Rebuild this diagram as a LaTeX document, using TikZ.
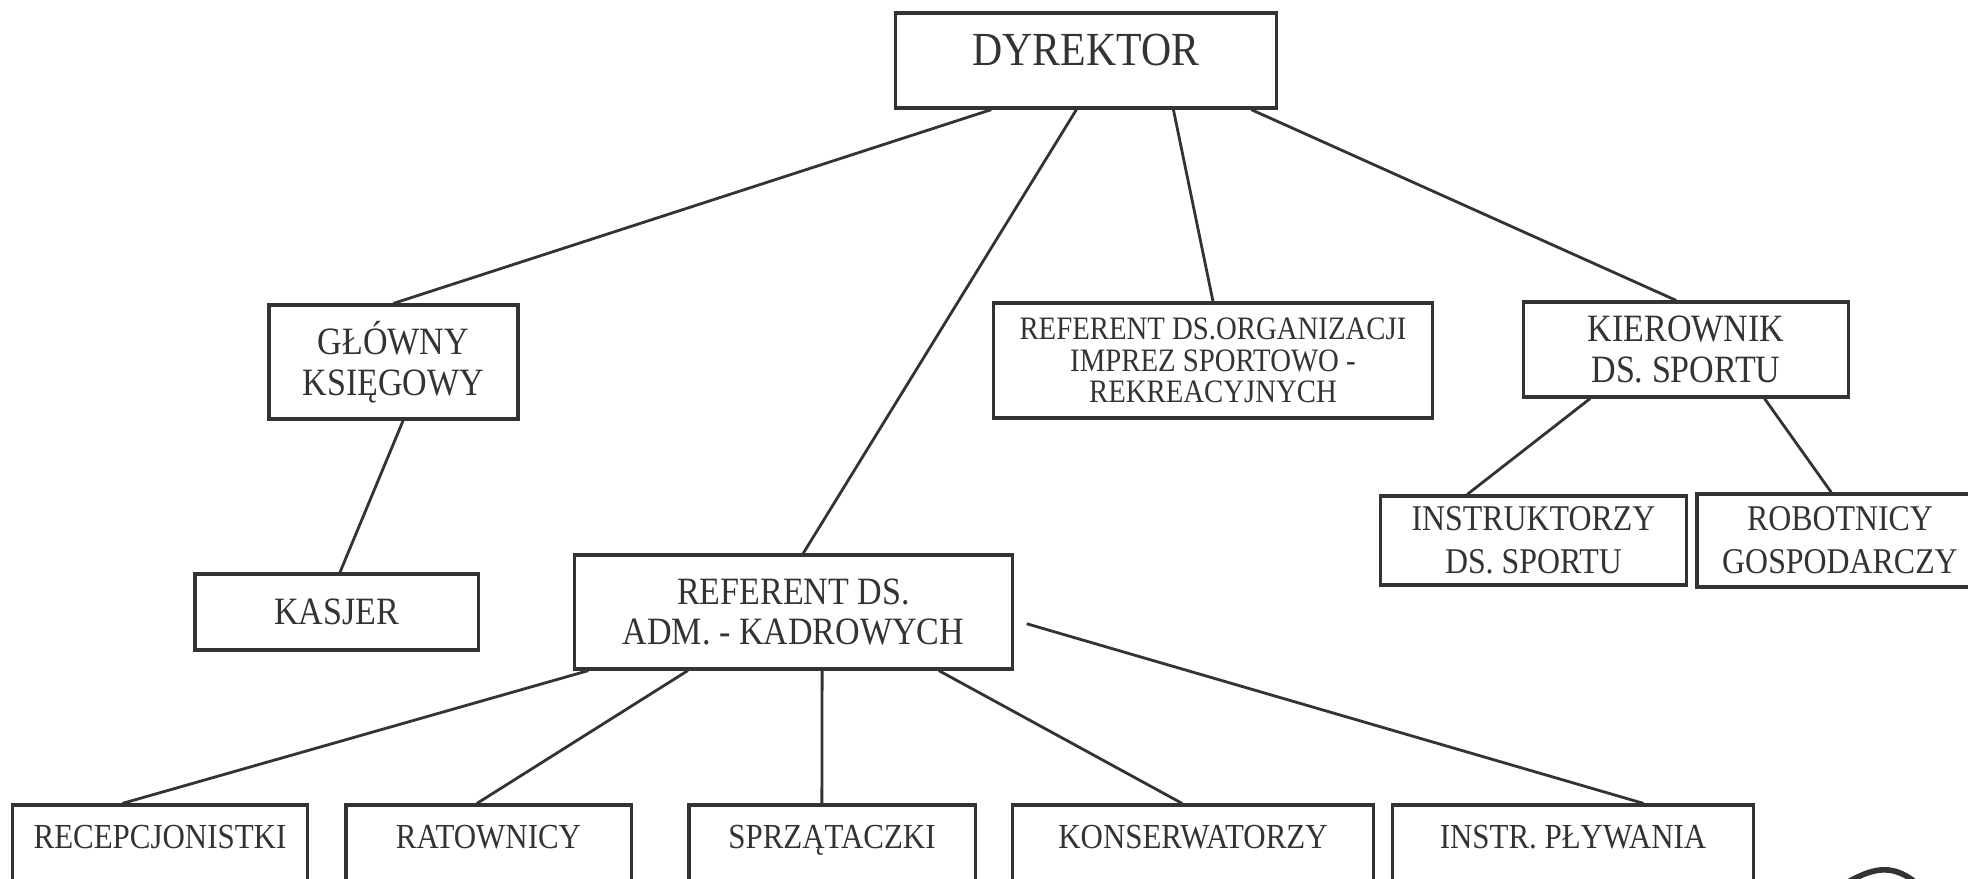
\documentclass[tikz,border=0pt]{standalone}
\usepackage{fontspec}
\setmainfont[FakeStretch=0.88]{Liberation Serif}
\usepackage{tikz}
\usetikzlibrary{calc}
\definecolor{ink}{gray}{0.2}

\begin{document}
\begin{tikzpicture}[x=0.01cm,y=-0.01cm]
\tikzstyle{post}=[rectangle,draw=ink,line width=0.9pt,text=ink,align=center,inner sep=0pt]
\tikzstyle{low}=[post,minimum height=1.2cm,text depth=0.56cm,font=\fontsize{10}{12}\selectfont]
\tikzstyle{link}=[draw=ink,line width=0.8pt]
\useasboundingbox (0,0) rectangle (1968,878);
\clip (0,0) rectangle (1968,878);

% Top of the chart
\node (DYR) [post,minimum width=3.8cm,minimum height=0.95cm,text depth=0.22cm,font=\fontsize{13.5}{15}\selectfont] at (1086,60.5) {DYREKTOR};

% Second level
\node (GK) [post,minimum width=2.49cm,minimum height=1.14cm,font=\fontsize{11}{11.5}\selectfont] at (393.5,362) {GŁÓWNY\\KSIĘGOWY};
\node (ROR) [post,minimum width=4.38cm,minimum height=1.15cm,font=\fontsize{9.3}{8.9}\selectfont] at (1213,360.5) {REFERENT DS.ORGANIZACJI\\IMPREZ SPORTOWO -\\REKREACYJNYCH};
\node (KDS) [post,minimum width=3.24cm,minimum height=0.95cm,font=\fontsize{11}{11.5}\selectfont] at (1686,349.5) {KIEROWNIK\\DS. SPORTU};
\node (RAK) [post,minimum width=4.37cm,minimum height=1.14cm,font=\fontsize{11}{11.5}\selectfont] at (793.5,612) {REFERENT DS.\\ADM. - KADROWYCH};

% Third level
\node (KAS) [post,minimum width=2.83cm,minimum height=0.76cm,font=\fontsize{11}{12}\selectfont] at (336.5,612) {KASJER};
\node (IDS) [post,minimum width=3.05cm,minimum height=0.89cm,font=\fontsize{10.3}{12.3}\selectfont] at (1533.5,540.5) {INSTRUKTORZY\\DS. SPORTU};
\node (RG) [post,minimum width=2.86cm,minimum height=0.93cm,font=\fontsize{10.3}{12.3}\selectfont] at (1840,540.5) {ROBOTNICY\\GOSPODARCZY};

% Bottom row (cut by the page edge)
\node (REC) [low,minimum width=2.94cm] at (160,865) {RECEPCJONISTKI};
\node (RAT) [low,minimum width=2.85cm] at (488.5,865) {RATOWNICY};
\node (SPR) [low,minimum width=2.86cm] at (832,865) {SPRZĄTACZKI};
\node (KON) [low,minimum width=3.6cm] at (1193,865) {KONSERWATORZY};
\node (IPL) [low,minimum width=3.6cm] at (1573,865) {INSTR. PŁYWANIA};

% Lines from the director
\draw[link] ($(DYR.south west)!0.253!(DYR.south east)$) -- (GK.north);
\draw[link] ($(DYR.south west)!0.475!(DYR.south east)$) -- ($(RAK.north west)!0.522!(RAK.north east)$);
\draw[link] ($(DYR.south west)!0.728!(DYR.south east)$) -- (ROR.north);
\draw[link] ($(DYR.south west)!0.931!(DYR.south east)$) -- ($(KDS.north west)!0.47!(KDS.north east)$);

% Lines below
\draw[link] ($(GK.south west)!0.538!(GK.south east)$) -- ($(KAS.north west)!0.512!(KAS.north east)$);
\draw[link] ($(KDS.south west)!0.207!(KDS.south east)$) -- ($(IDS.north west)!0.285!(IDS.north east)$);
\draw[link] ($(KDS.south west)!0.74!(KDS.south east)$) -- ($(RG.north west)!0.47!(RG.north east)$);
\draw[link] ($(RAK.south west)!0.034!(RAK.south east)$) -- ($(REC.north west)!0.374!(REC.north east)$);
\draw[link] ($(RAK.south west)!0.26!(RAK.south east)$) -- ($(RAT.north west)!0.46!(RAT.north east)$);
\draw[link] ($(RAK.south west)!0.565!(RAK.south east)$) -- ($(SPR.north west)!0.465!(SPR.north east)$);
\draw[link] ($(RAK.south west)!0.83!(RAK.south east)$) -- ($(KON.north west)!0.47!(KON.north east)$);
\draw[link] ($(RAK.north east)!0.6!(RAK.south east)+(13,0)$) -- ($(IPL.north west)!0.694!(IPL.north east)$);

% stray pen mark
\draw[ink,line width=1.6pt] (1848,882) .. controls (1870,870) and (1890,862) .. (1915,882);
\end{tikzpicture}
\end{document}
